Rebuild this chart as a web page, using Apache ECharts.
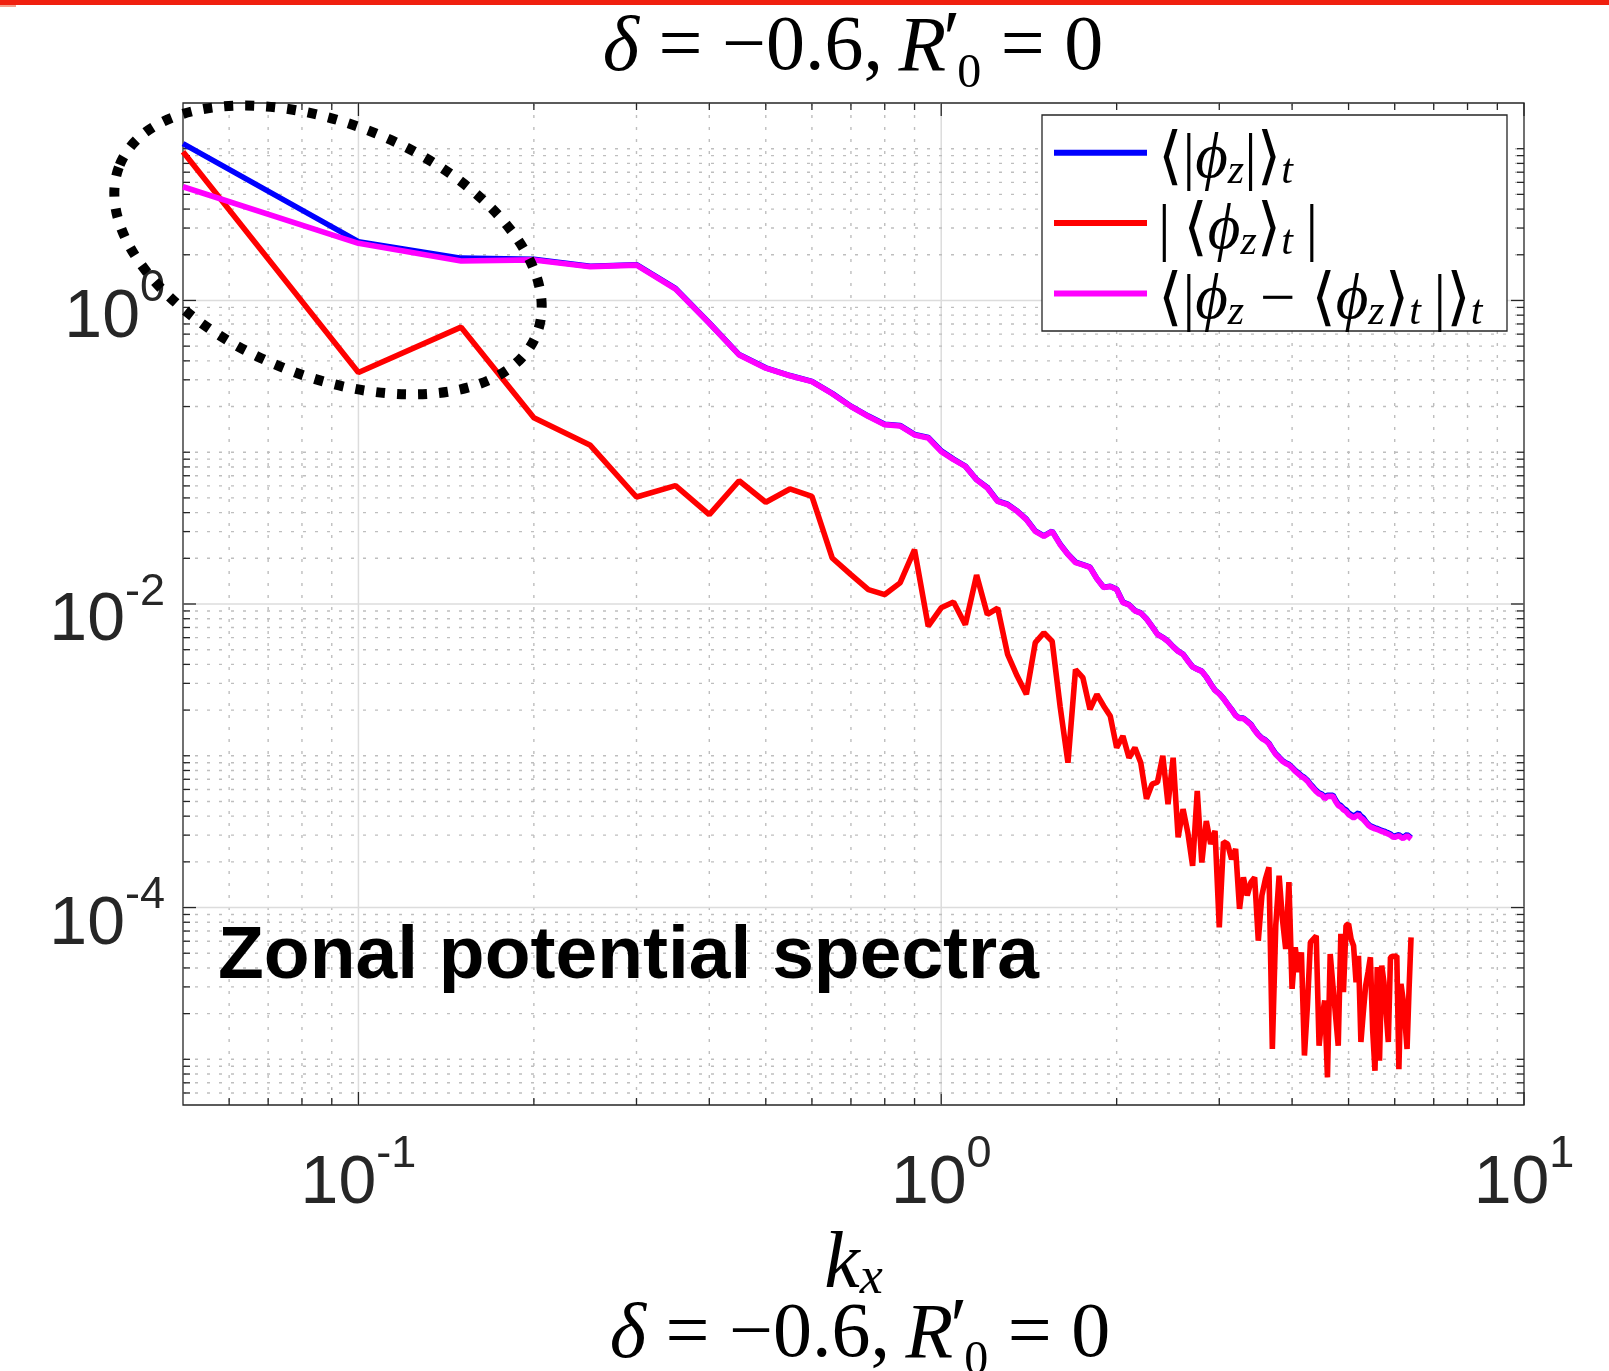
<!DOCTYPE html>
<html>
<head>
<meta charset="utf-8">
<script src="https://cdn.jsdelivr.net/npm/echarts@6/dist/echarts.min.js"></script>
<style>
html,body{margin:0;padding:0;background:#fff;}
#chart{width:1609px;height:1371px;}
</style>
</head>
<body>
<div id="chart"></div>
<script>
// ---------------- DATA ----------------
const kx = [0.05,0.1,0.15,0.2,0.25,0.3,0.35,0.4,0.45,0.5,0.55,0.6,0.65,0.7,0.75,0.8,0.85,0.9,0.95,1.0,
1.05,1.1,1.15,1.2,1.25,1.3,1.35,1.4,1.45,1.5,1.55,1.6,1.65,1.7,1.75,1.8,1.85,1.9,1.95,2.0,
2.05,2.1,2.15,2.2,2.25,2.3,2.35,2.4,2.45,2.5,2.55,2.6,2.65,2.7,2.75,2.8,2.85,2.9,2.95,3.0,
3.05,3.1,3.15,3.2,3.25,3.3,3.35,3.4,3.45,3.5,3.55,3.6,3.65,3.7,3.75,3.8,3.85,3.9,3.95,4.0,
4.05,4.1,4.15,4.2,4.25,4.3,4.35,4.4,4.45,4.5,4.55,4.6,4.65,4.7,4.75,4.8,4.85,4.9,4.95,5.0,
5.05,5.1,5.15,5.2,5.25,5.3,5.35,5.4,5.45,5.5,5.55,5.6,5.65,5.7,5.75,5.8,5.85,5.9,5.95,6.0,
6.05,6.1,6.15,6.2,6.25,6.3,6.35,6.4];

// <|phi_z|>_t  (blue)
const absMean = [10.8,2.44,1.90,1.87,1.68,1.72,1.20,0.71,0.44,0.36,0.32,0.293,0.244,0.201,0.173,0.153,0.150,0.131,0.125,0.102,
0.090,0.081,0.066,0.0585,0.0477,0.0454,0.0410,0.0362,0.0303,0.0281,0.0302,0.0248,0.0213,0.0189,0.0182,0.0175,0.0147,0.0129,0.0131,0.0125,
0.0103,0.00990,0.00905,0.00874,0.00800,0.00713,0.00632,0.00603,0.00568,0.00524,0.00489,0.00468,0.00423,0.00386,0.00372,0.00361,0.00331,0.00298,0.00271,0.00257,
0.00239,0.00219,0.00202,0.00185,0.00177,0.00177,0.00169,0.00161,0.00148,0.00138,0.00131,0.00127,0.00121,0.00111,0.00103,0.00098,0.00093,0.00090,0.00088,0.00084,
0.00080,0.00077,0.00074,0.00072,0.00069,0.00065,0.00062,0.00059,0.00057,0.00056,0.00053,0.00055,0.00055,0.00055,0.00051,0.00048,0.00047,0.00045,0.00044,0.00042,
0.00041,0.00040,0.00041,0.00042,0.00040,0.00039,0.000370,0.000355,0.000345,0.000340,0.000335,0.000332,0.000327,0.000322,0.000319,0.000314,0.000310,0.000305,0.000297,0.000295,
0.000299,0.000302,0.000295,0.000290,0.000296,0.000302,0.000295,0.000288];

// |<phi_z>_t|  (red)
const meanAbs = [9.53,0.335,0.667,0.169,0.111,0.0507,0.0602,0.0388,0.0649,0.0468,0.0573,0.0512,0.0201,0.0156,0.01245,0.01154,0.01378,0.0228,0.00714,0.00944,
0.0103,0.0073,0.0155,0.00853,0.0094,0.00466,0.00335,0.00254,0.00556,0.00646,0.00569,0.0021,0.00090,0.0037,0.00327,0.00202,0.00254,0.00213,0.00183,0.00113,
0.00135,0.00097,0.00113,0.00090,0.00052,0.00065,0.00067,0.00100,0.00048,0.00097,0.00029,0.000445,0.00031,0.000188,0.000587,0.000198,0.000372,0.000262,0.00032,0.000074,
0.000271,0.000262,0.000208,0.000243,0.000098,0.000158,0.00012,0.000147,0.000158,0.0000605,0.00012,0.000154,0.000184,0.0000117,0.000076,0.000162,0.000084,0.0000533,0.000147,0.0000291,
0.0000547,0.0000375,0.0000507,0.0000106,0.0000226,0.000059,0.000062,0.000065,0.0000123,0.0000185,0.0000244,0.0000076,0.0000494,0.0000306,0.0000194,0.0000123,0.000067,0.0000277,0.000076,0.000078,
0.000062,0.000056,0.0000322,0.000048,0.000013,0.0000204,0.0000306,0.0000375,0.000047,0.0000155,0.0000084,0.0000405,0.0000098,0.0000414,0.0000322,0.0000204,0.000013,0.000047,0.0000477,0.0000477,
0.000048,0.0000086,0.0000314,0.000025,0.0000176,0.0000117,0.0000291,0.0000637];

// <|phi_z - <phi_z>_t|>_t  (magenta)
const fluct = [5.61,2.38,1.82,1.85,1.67,1.71,1.19,0.708,0.438,0.358,0.319,0.292,0.243,0.200,0.172,0.152,0.149,0.130,0.124,0.101,
0.0893,0.0807,0.0659,0.0581,0.0474,0.0451,0.0408,0.0360,0.0301,0.0279,0.0301,0.0246,0.0212,0.01875,0.01812,0.0174,0.01465,0.01285,0.01303,0.01245,
0.01022,0.00987,0.00901,0.00871,0.00798,0.00711,0.00630,0.00601,0.00566,0.00522,0.00487,0.00466,0.00421,0.00384,0.00371,0.00360,0.00330,0.00297,0.00270,0.00256,
0.00238,0.00218,0.00201,0.00184,0.00176,0.00176,0.00168,0.00160,0.00147,0.00137,0.00130,0.00126,0.00120,0.00110,0.00102,0.00097,0.00092,0.00089,0.00087,0.00083,
0.00079,0.00076,0.00073,0.00071,0.00068,0.00064,0.00061,0.00058,0.00056,0.00055,0.00052,0.00054,0.00054,0.00054,0.00050,0.00047,0.00046,0.00044,0.00043,0.00041,
0.00040,0.00039,0.00040,0.00041,0.00039,0.00038,0.000365,0.00035,0.00034,0.000335,0.00033,0.000327,0.000322,0.000317,0.000314,0.000309,0.000305,0.0003,0.000292,0.00029,
0.000294,0.000297,0.00029,0.000285,0.000291,0.000297,0.00029,0.000283];

const seriesNames = ['<|phi_z|>_t', '|<phi_z>_t|', '<|phi_z - <phi_z>_t|>_t'];
const seriesColors = ['#0000ff', '#ff0000', '#ff00ff'];
const seriesValues = [absMean, meanAbs, fluct];

const xRange = [0.05, 10];
const yRange = [5e-6, 20];
const xLabelExps = [-1, 0, 1];
const yLabelExps = [-4, -2, 0];
const xMajorTicks = [0.1, 1, 10];
const yMajorTicks = [1e-4, 1e-2, 1];

const titleText = '{i|δ}{n| = −0.6,\u2009}{i|R}{p|′}{s|0}{n| = 0}';
const annotationText = 'Zonal potential spectra';

// ---------------- TICK POSITIONS ----------------
function minorTicks(range, majors, kFrom, kTo) {
  const out = [];
  for (let k = kFrom; k <= kTo; k++) {
    for (let m = 1; m <= 9; m++) {
      const v = m * Math.pow(10, k);
      if (v <= range[0] * 1.001 || v >= range[1] * 0.999) continue;
      if (majors.some(t => Math.abs(t - v) / t < 1e-6)) continue;
      out.push(v);
    }
  }
  return out;
}
const xMinorTicks = minorTicks(xRange, xMajorTicks, -2, 0);
const yMinorTicks = minorTicks(yRange, yMajorTicks, -6, 1);

const xTickData = xMajorTicks.map(v => [v, 1, 1]).concat(xMinorTicks.map(v => [v, 1, 0]));
const yTickData = yMajorTicks.map(v => [1, v, 1]).concat(yMinorTicks.map(v => [1, v, 0]));

const AX = '#262626';
const majorGrid = {stroke: '#dcdcdc', lineWidth: 1.5};
const minorGrid = {stroke: '#bebebe', lineWidth: 1.4, lineDash: [3, 9]};
const tickStyle = {stroke: AX, lineWidth: 1.3};

function renderXGrid(params, api) {
  const v = api.value(0), major = api.value(2);
  const cs = params.coordSys;
  const px = api.coord([v, 1])[0];
  const top = cs.y, bot = cs.y + cs.height;
  const len = major ? 13 : 7;
  const ch = [];
  if (px > cs.x + 1 && px < cs.x + cs.width - 1) {
    ch.push({type: 'line', shape: {x1: px, y1: top, x2: px, y2: bot}, style: major ? majorGrid : minorGrid});
  }
  ch.push({type: 'line', shape: {x1: px, y1: bot, x2: px, y2: bot - len}, style: tickStyle});
  ch.push({type: 'line', shape: {x1: px, y1: top, x2: px, y2: top + len}, style: tickStyle});
  return {type: 'group', children: ch};
}
function renderYGrid(params, api) {
  const v = api.value(1), major = api.value(2);
  const cs = params.coordSys;
  const py = api.coord([1, v])[1];
  const left = cs.x, right = cs.x + cs.width;
  const len = major ? 13 : 7;
  const ch = [];
  if (py > cs.y + 1 && py < cs.y + cs.height - 1) {
    ch.push({type: 'line', shape: {x1: left, y1: py, x2: right, y2: py}, style: major ? majorGrid : minorGrid});
  }
  ch.push({type: 'line', shape: {x1: left, y1: py, x2: left + len, y2: py}, style: tickStyle});
  ch.push({type: 'line', shape: {x1: right, y1: py, x2: right - len, y2: py}, style: tickStyle});
  return {type: 'group', children: ch};
}

function powFormatter(allowed) {
  return function (v) {
    const e = Math.log10(v);
    const r = Math.round(e);
    if (Math.abs(e - r) > 1e-6 || allowed.indexOf(r) < 0) return '';
    return '{b|10}{p|' + r + '}';
  };
}
const labelFont = '"Liberation Sans", Arial, Helvetica, sans-serif';
const tickRich = {
  b: {fontFamily: labelFont, fontSize: 68, lineHeight: 70, padding: [18, 0, 0, 0], color: AX},
  p: {fontFamily: labelFont, fontSize: 45, lineHeight: 40, padding: [4, 0, 44, 0], color: AX}
};

const serif = '"Liberation Serif", "DejaVu Serif", serif';
const legendRich = {
  m0: {fontFamily: serif, fontSize: 63, lineHeight: 68, padding: [16, 0, 0, 6], color: '#000'},
  m: {fontFamily: serif, fontSize: 63, lineHeight: 68, padding: [16, 0, 0, 0], color: '#000'},
  i: {fontFamily: serif, fontStyle: 'italic', fontSize: 63, lineHeight: 68, padding: [16, 0, 0, 0], color: '#000'},
  s: {fontFamily: serif, fontStyle: 'italic', fontSize: 42, lineHeight: 45, padding: [39, 0, 0, 0], color: '#000'}
};
const legendLabels = {};
legendLabels[seriesNames[0]] = '{m0|⟨|}{i|ϕ}{s|z}{m||⟩}{s|t}';
legendLabels[seriesNames[1]] = '{m0||\u2009⟨}{i|ϕ}{s|z}{m|⟩}{s|t}{m|\u2009|}';
legendLabels[seriesNames[2]] = '{m0|⟨|}{i|ϕ}{s|z}{m| − ⟨}{i|ϕ}{s|z}{m|⟩}{s|t}{m|\u2009|⟩}{s|t}';

const titleRich = {
  n: {fontFamily: serif, fontSize: 78, lineHeight: 88, padding: [8, 0, 8, 0], fill: '#000'},
  i: {fontFamily: serif, fontStyle: 'italic', fontSize: 78, lineHeight: 88, padding: [8, 0, 8, 0], fill: '#000'},
  p: {fontFamily: serif, fontSize: 78, lineHeight: 88, padding: [0, 0, 10, 0], width: 11, fill: '#000'},
  s: {fontFamily: serif, fontSize: 48, lineHeight: 48, padding: [53, 0, 3, 0], fill: '#000'}
};

// ---------------- CHART ----------------
const chart = echarts.init(document.getElementById('chart'), null, {renderer: 'canvas'});

const lineSeries = seriesNames.map((name, si) => ({
  type: 'line',
  name: name,
  data: kx.map((k, i) => [k, seriesValues[si][i]]),
  symbol: 'none',
  showSymbol: false,
  lineStyle: {color: seriesColors[si], width: 5.6},
  itemStyle: {color: seriesColors[si]},
  z: 2,
  animation: false
}));

const option = {
  animation: false,
  backgroundColor: '#ffffff',
  grid: {left: 183, top: 103, right: 85, bottom: 266, show: true, borderColor: AX, borderWidth: 1.3, backgroundColor: 'transparent'},
  xAxis: {
    type: 'log', logBase: 10, min: xRange[0], max: xRange[1],
    axisLine: {show: false}, axisTick: {show: false}, splitLine: {show: false}, minorTick: {show: false},
    axisLabel: {formatter: powFormatter(xLabelExps), margin: 35, rich: tickRich, showMinLabel: true, showMaxLabel: true},
    name: '{k|k}{x|x}', nameLocation: 'middle', nameGap: 119,
    nameTextStyle: {rich: {
      k: {fontFamily: serif, fontStyle: 'italic', fontSize: 80, lineHeight: 80, color: '#000'},
      x: {fontFamily: serif, fontStyle: 'italic', fontSize: 52, lineHeight: 52, padding: [26, 0, 0, 0], color: '#000'}
    }}
  },
  yAxis: {
    type: 'log', logBase: 10, min: yRange[0], max: yRange[1],
    axisLine: {show: false}, axisTick: {show: false}, splitLine: {show: false}, minorTick: {show: false},
    axisLabel: {formatter: powFormatter(yLabelExps), margin: 18, padding: [17, 0, 0, 0], rich: tickRich, showMinLabel: true, showMaxLabel: true}
  },
  legend: {
    data: seriesNames, orient: 'vertical', left: 1054, top: 112.3,
    padding: 0, itemGap: -10.7, itemWidth: 93, itemHeight: 6, icon: 'rect',
    borderWidth: 0,
    formatter: name => legendLabels[name],
    textStyle: {rich: legendRich},
    selectedMode: false, z: 6
  },
  series: [
    {type: 'custom', name: 'xgrid', data: xTickData, renderItem: renderXGrid, silent: true, z: 1, clip: false, encode: {x: 0, y: 1}},
    {type: 'custom', name: 'ygrid', data: yTickData, renderItem: renderYGrid, silent: true, z: 1, clip: false, encode: {x: 0, y: 1}}
  ].concat(lineSeries),
  graphic: [
    {type: 'rect', shape: {x: 0, y: 0, width: 1609, height: 5}, style: {fill: '#f0200f'}, z: 50},
    {type: 'rect', shape: {x: 0, y: 5, width: 16, height: 2}, style: {fill: '#f4a08c'}, z: 50},
    {type: 'rect', shape: {x: 1042, y: 115, width: 465, height: 216}, style: {fill: '#ffffff', stroke: AX, lineWidth: 1.3}, z: 3},
    {type: 'text', x: 853, y: 5, z: 50,
      style: {text: titleText, rich: titleRich, align: 'center', textAlign: 'center', verticalAlign: 'top', textVerticalAlign: 'top', fill: '#000'}},
    {type: 'text', x: 860, y: 1292, z: 50,
      style: {text: titleText, rich: titleRich, align: 'center', textAlign: 'center', verticalAlign: 'top', textVerticalAlign: 'top', fill: '#000'}},
    {type: 'text', x: 218, y: 920, z: 50,
      style: {text: annotationText, font: 'bold 75px "Liberation Sans", Arial, sans-serif', fill: '#000', align: 'left', textAlign: 'left', verticalAlign: 'top', textVerticalAlign: 'top'}},
    {type: 'ellipse', x: 328, y: 250, rotation: -0.388, z: 60,
      shape: {cx: 0, cy: 0, rx: 225, ry: 126},
      style: {fill: 'none', stroke: '#000', lineWidth: 10, lineDash: [9, 12]}}
  ]
};
chart.setOption(option);
</script>
</body>
</html>
